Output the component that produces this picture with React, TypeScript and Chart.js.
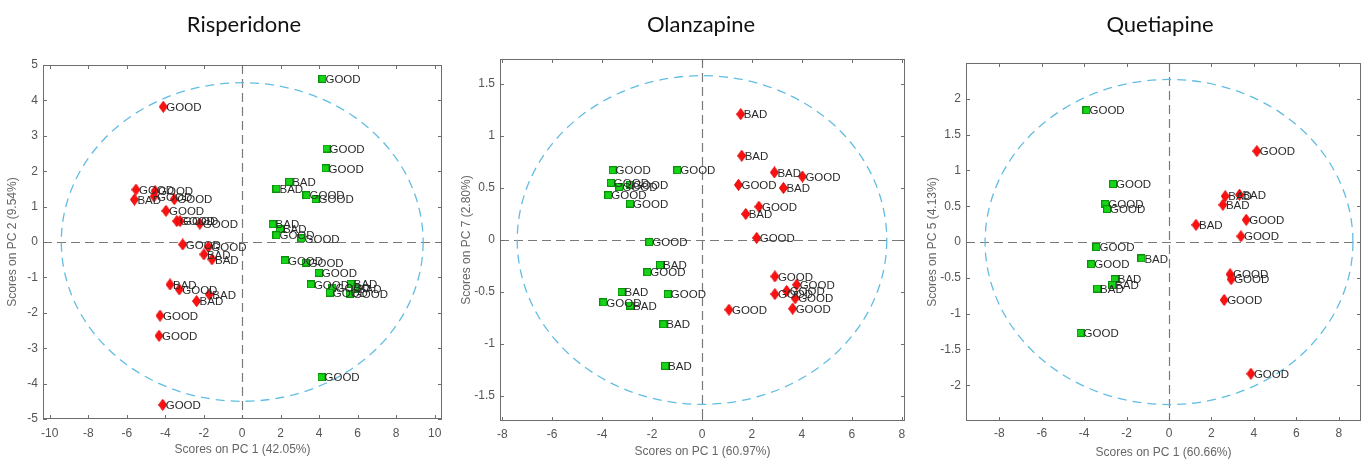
import React, { useEffect, useRef } from "react";
import { Chart, registerables } from "chart.js";

Chart.register(...registerables);

// ---------- Risperidone ----------
const risTitle = "Risperidone";
const risXTitle = "Scores on PC 1 (42.05%)";
const risYTitle = "Scores on PC 2 (9.54%)";
const risXTicks = [-10, -8, -6, -4, -2, 0, 2, 4, 6, 8, 10];
const risYTicks = [-5, -4, -3, -2, -1, 0, 1, 2, 3, 4, 5];
const risRedX = [-4.1, -5.52, -5.6, -4.53, -4.58, -3.53, -3.96, -3.4, -3.23, -2.2, -3.09, -1.76, -1.99, -1.57, -3.75, -3.27, -1.71, -2.37, -4.27, -4.32, -4.13];
const risRedY = [3.82, 1.48, 1.2, 1.44, 1.29, 1.21, 0.88, 0.59, 0.59, 0.52, -0.07, -0.14, -0.35, -0.49, -1.2, -1.34, -1.48, -1.67, -2.08, -2.65, -4.6];
const risRedLabels = ["GOOD", "GOOD", "BAD", "GOOD", "GOOD", "GOOD", "GOOD", "GOOD", "GOOD", "GOOD", "GOOD", "GOOD", "BAD", "BAD", "BAD", "GOOD", "BAD", "BAD", "GOOD", "GOOD", "GOOD"];
const risGreenX = [4.17, 4.38, 4.33, 2.44, 1.78, 3.34, 3.81, 1.58, 1.96, 1.78, 3.08, 2.22, 3.29, 3.98, 3.57, 5.64, 4.69, 4.55, 5.59, 5.85, 4.12];
const risGreenY = [4.61, 2.64, 2.08, 1.7, 1.51, 1.32, 1.21, 0.5, 0.36, 0.19, 0.1, -0.52, -0.58, -0.87, -1.2, -1.18, -1.29, -1.43, -1.46, -1.32, -3.82];
const risGreenLabels = ["GOOD", "GOOD", "GOOD", "BAD", "BAD", "GOOD", "GOOD", "BAD", "BAD", "GOOD", "GOOD", "GOOD", "GOOD", "GOOD", "GOOD", "BAD", "GOOD", "GOOD", "GOOD", "BAD", "GOOD"];
const risEllipse = [9.4, 4.5];

// ---------- Olanzapine ----------
const olaTitle = "Olanzapine";
const olaXTitle = "Scores on PC 1 (60.97%)";
const olaYTitle = "Scores on PC 7 (2.80%)";
const olaXTicks = [-8, -6, -4, -2, 0, 2, 4, 6, 8];
const olaYTicks = [-1.5, -1, -0.5, 0, 0.5, 1, 1.5];
const olaGreenX = [-3.58, -0.99, -3.65, -3.31, -2.88, -3.75, -2.88, -2.11, -1.68, -2.19, -3.22, -1.37, -3.95, -2.88, -1.55, -1.48];
const olaGreenY = [0.67, 0.67, 0.55, 0.51, 0.53, 0.43, 0.35, -0.02, -0.24, -0.31, -0.5, -0.52, -0.6, -0.63, -0.81, -1.21];
const olaGreenLabels = ["GOOD", "GOOD", "GOOD", "GOOD", "GOOD", "GOOD", "GOOD", "GOOD", "BAD", "GOOD", "BAD", "GOOD", "GOOD", "BAD", "BAD", "BAD"];
const olaRedX = [1.55, 1.59, 2.9, 4.02, 1.46, 3.26, 2.28, 1.75, 2.19, 2.92, 3.79, 2.92, 3.39, 3.73, 3.63, 1.08];
const olaRedY = [1.21, 0.81, 0.65, 0.61, 0.53, 0.5, 0.32, 0.25, 0.02, -0.35, -0.43, -0.52, -0.49, -0.56, -0.66, -0.67];
const olaRedLabels = ["BAD", "BAD", "BAD", "GOOD", "GOOD", "BAD", "GOOD", "BAD", "GOOD", "GOOD", "GOOD", "GOOD", "GOOD", "GOOD", "GOOD", "GOOD"];
const olaEllipse = [7.4, 1.58];

// ---------- Quetiapine ----------
const queTitle = "Quetiapine";
const queXTitle = "Scores on PC 1 (60.66%)";
const queYTitle = "Scores on PC 5 (4.13%)";
const queXTicks = [-8, -6, -4, -2, 0, 2, 4, 6, 8];
const queYTicks = [-2, -1.5, -1, -0.5, 0, 0.5, 1, 1.5, 2];
const queGreenX = [-3.89, -2.64, -3.0, -2.92, -3.42, -1.3, -3.66, -2.56, -2.68, -3.39, -4.17];
const queGreenY = [1.84, 0.81, 0.53, 0.46, -0.07, -0.23, -0.31, -0.52, -0.6, -0.65, -1.27];
const queGreenLabels = ["GOOD", "GOOD", "GOOD", "GOOD", "GOOD", "BAD", "GOOD", "BAD", "BAD", "BAD", "GOOD"];
const queRedX = [4.14, 2.65, 3.32, 2.54, 3.64, 1.27, 3.39, 2.88, 2.93, 2.6, 3.86];
const queRedY = [1.27, 0.64, 0.66, 0.52, 0.31, 0.24, 0.08, -0.45, -0.52, -0.81, -1.84];
const queRedLabels = ["GOOD", "BAD", "BAD", "BAD", "GOOD", "BAD", "GOOD", "GOOD", "GOOD", "GOOD", "GOOD"];
const queEllipse = [8.67, 2.27];

const FONT = "'Liberation Sans', Arial, sans-serif";

type PanelCfg = {
  title: string; xTitle: string; yTitle: string;
  xTicks: number[]; yTicks: number[];
  xMin: number; xMax: number; yMin: number; yMax: number;
  redX: number[]; redY: number[]; redLabels: string[];
  greenX: number[]; greenY: number[]; greenLabels: string[];
  ellipse: number[];
  left: number; width: number;
  padLeft: number; yAxisW: number; padRight: number; top: number; xAxisH: number;
  xTickPad: number; xTitlePad: number; yTitlePad: number; titleX: number;
};

const panels: PanelCfg[] = [
  {
    title: risTitle, xTitle: risXTitle, yTitle: risYTitle, xTicks: risXTicks, yTicks: risYTicks,
    xMin: -10.35, xMax: 10.38, yMin: -5, yMax: 5,
    redX: risRedX, redY: risRedY, redLabels: risRedLabels,
    greenX: risGreenX, greenY: risGreenY, greenLabels: risGreenLabels, ellipse: risEllipse,
    left: 0, width: 455, padLeft: 0, yAxisW: 43, padRight: 13, top: 65, xAxisH: 42,
    xTickPad: 7, xTitlePad: 4, yTitlePad: 5, titleX: 244,
  },
  {
    title: olaTitle, xTitle: olaXTitle, yTitle: olaYTitle, xTicks: olaXTicks, yTicks: olaYTicks,
    xMin: -8.09, xMax: 8.13, yMin: -1.74, yMax: 1.74,
    redX: olaRedX, redY: olaRedY, redLabels: olaRedLabels,
    greenX: olaGreenX, greenY: olaGreenY, greenLabels: olaGreenLabels, ellipse: olaEllipse,
    left: 455, width: 460, padLeft: 0, yAxisW: 45, padRight: 10, top: 59, xAxisH: 40,
    xTickPad: 6, xTitlePad: 2, yTitlePad: 4, titleX: 246,
  },
  {
    title: queTitle, xTitle: queXTitle, yTitle: queYTitle, xTicks: queXTicks, yTicks: queYTicks,
    xMin: -9.57, xMax: 9.05, yMin: -2.5, yMax: 2.5,
    redX: queRedX, redY: queRedY, redLabels: queRedLabels,
    greenX: queGreenX, greenY: queGreenY, greenLabels: queGreenLabels, ellipse: queEllipse,
    left: 915, width: 460, padLeft: 0, yAxisW: 51, padRight: 14, top: 63, xAxisH: 40,
    xTickPad: 5, xTitlePad: 1, yTitlePad: 10, titleX: 245,
  },
];

function makeDiamond(): HTMLCanvasElement {
  const c = document.createElement("canvas");
  c.width = 9; c.height = 12;
  const g = c.getContext("2d")!;
  g.fillStyle = "#ff1010";
  g.strokeStyle = "#e00000";
  g.beginPath();
  g.moveTo(4.5, 0.5); g.lineTo(8.5, 6); g.lineTo(4.5, 11.5); g.lineTo(0.5, 6);
  g.closePath(); g.fill(); g.stroke();
  return c;
}

function makeSquare(): HTMLCanvasElement {
  const c = document.createElement("canvas");
  c.width = 8; c.height = 8;
  const g = c.getContext("2d")!;
  g.fillStyle = "#16d416";
  g.fillRect(0, 0, 8, 8);
  g.strokeStyle = "#0a8f0a";
  g.lineWidth = 1;
  g.strokeRect(0.5, 0.5, 7, 7);
  return c;
}

function Panel({ cfg }: { cfg: PanelCfg }) {
  const ref = useRef<HTMLCanvasElement | null>(null);
  useEffect(() => {
    const canvas = ref.current;
    if (!canvas) return;
    const diamond = makeDiamond();
    const square = makeSquare();

    const decor = {
      id: "decor",
      beforeDatasetsDraw(chart: any) {
        const { ctx, chartArea, scales } = chart;
        const x = scales.x, y = scales.y;
        const x0 = x.getPixelForValue(0), y0 = y.getPixelForValue(0);
        ctx.save();
        ctx.beginPath();
        ctx.rect(chartArea.left, chartArea.top, chartArea.right - chartArea.left, chartArea.bottom - chartArea.top);
        ctx.clip();
        // zero lines
        ctx.strokeStyle = "#7a7a7a";
        ctx.lineWidth = 1.2;
        ctx.setLineDash([9, 5]);
        ctx.beginPath();
        ctx.moveTo(chartArea.left, Math.round(y0) + 0.5);
        ctx.lineTo(chartArea.right, Math.round(y0) + 0.5);
        ctx.moveTo(Math.round(x0) + 0.5, chartArea.top);
        ctx.lineTo(Math.round(x0) + 0.5, chartArea.bottom);
        ctx.stroke();
        // confidence ellipse
        const rx = x.getPixelForValue(cfg.ellipse[0]) - x0;
        const ry = y0 - y.getPixelForValue(cfg.ellipse[1]);
        ctx.strokeStyle = "#62bde3";
        ctx.lineWidth = 1.3;
        ctx.setLineDash([9, 6]);
        ctx.beginPath();
        ctx.ellipse(x0, y0, rx, ry, 0, 0, Math.PI * 2);
        ctx.stroke();
        ctx.restore();
      },
      afterDatasetsDraw(chart: any) {
        const { ctx } = chart;
        ctx.save();
        ctx.fillStyle = "#2a2a2a";
        ctx.font = `11.5px ${FONT}`;
        ctx.textBaseline = "middle";
        ctx.textAlign = "left";
        chart.data.datasets.forEach((ds: any, di: number) => {
          const meta = chart.getDatasetMeta(di);
          meta.data.forEach((el: any, i: number) => {
            ctx.fillText(ds.pointLabels[i], el.x + 3, el.y + 1);
          });
        });
        ctx.restore();
      },
      afterDraw(chart: any) {
        const { ctx, chartArea, scales } = chart;
        const { left, right, top, bottom } = chartArea;
        ctx.save();
        ctx.strokeStyle = "#6e6e6e";
        ctx.lineWidth = 1;
        ctx.setLineDash([]);
        ctx.strokeRect(Math.round(left) + 0.5, Math.round(top) + 0.5, Math.round(right - left) - 1, Math.round(bottom - top) - 1);
        ctx.beginPath();
        const tl = 4;
        cfg.xTicks.forEach((v) => {
          const px = Math.round(scales.x.getPixelForValue(v)) + 0.5;
          ctx.moveTo(px, bottom); ctx.lineTo(px, bottom - tl);
          ctx.moveTo(px, top); ctx.lineTo(px, top + tl);
        });
        cfg.yTicks.forEach((v) => {
          const py = Math.round(scales.y.getPixelForValue(v)) + 0.5;
          ctx.moveTo(left, py); ctx.lineTo(left + tl, py);
          ctx.moveTo(right, py); ctx.lineTo(right - tl, py);
        });
        ctx.stroke();
        // panel title
        ctx.fillStyle = "#111";
        ctx.font = `22px Lato, 'Open Sans', sans-serif`;
        ctx.textAlign = "center";
        ctx.textBaseline = "middle";
        ctx.fillText(cfg.title, cfg.titleX, 25);
        ctx.restore();
      },
    };

    const chart = new Chart(canvas, {
      type: "scatter",
      data: {
        datasets: [
          {
            label: "red",
            data: cfg.redX.map((v, i) => ({ x: v, y: cfg.redY[i] })),
            pointStyle: diamond,
            pointRadius: 5,
            pointLabels: cfg.redLabels,
          } as any,
          {
            label: "green",
            data: cfg.greenX.map((v, i) => ({ x: v, y: cfg.greenY[i] })),
            pointStyle: square,
            pointRadius: 5,
            pointLabels: cfg.greenLabels,
          } as any,
        ],
      },
      options: {
        animation: false,
        responsive: false,
        devicePixelRatio: 1,
        layout: { padding: { left: cfg.padLeft, right: cfg.padRight, top: cfg.top, bottom: 0 } },
        plugins: { legend: { display: false }, tooltip: { enabled: false }, title: { display: false } },
        scales: {
          x: {
            type: "linear",
            position: "bottom",
            min: cfg.xMin,
            max: cfg.xMax,
            afterBuildTicks: (s: any) => { s.ticks = cfg.xTicks.map((v) => ({ value: v })); },
            afterFit: (s: any) => { s.height = cfg.xAxisH; },
            grid: { display: false, drawTicks: false },
            border: { display: false },
            ticks: {
              padding: cfg.xTickPad, color: "#555", font: { size: 12, family: FONT },
              maxRotation: 0, autoSkip: false, callback: (v: any) => String(v),
            },
            title: { display: true, text: cfg.xTitle, color: "#666", font: { size: 12, family: FONT }, padding: { top: 0, bottom: cfg.xTitlePad } },
          },
          y: {
            type: "linear",
            position: "left",
            min: cfg.yMin,
            max: cfg.yMax,
            afterBuildTicks: (s: any) => { s.ticks = cfg.yTicks.map((v) => ({ value: v })); },
            afterFit: (s: any) => { s.width = cfg.yAxisW; },
            grid: { display: false, drawTicks: false },
            border: { display: false },
            ticks: {
              padding: 5, color: "#555", font: { size: 12, family: FONT },
              autoSkip: false, callback: (v: any) => String(v),
            },
            title: { display: true, text: cfg.yTitle, color: "#666", font: { size: 12, family: FONT }, padding: { top: cfg.yTitlePad, bottom: 0 } },
          },
        },
      },
      plugins: [decor],
    } as any);
    return () => chart.destroy();
  }, [cfg]);
  return (
    <canvas
      ref={ref}
      width={cfg.width}
      height={461}
      style={{ position: "absolute", left: cfg.left, top: 0, width: cfg.width, height: 461 }}
    />
  );
}

export default function App() {
  return (
    <div style={{ position: "absolute", left: 0, top: 0, width: 1362, height: 461, background: "#fff", overflow: "hidden" }}>
      {panels.map((p, i) => (
        <Panel key={i} cfg={p} />
      ))}
    </div>
  );
}
